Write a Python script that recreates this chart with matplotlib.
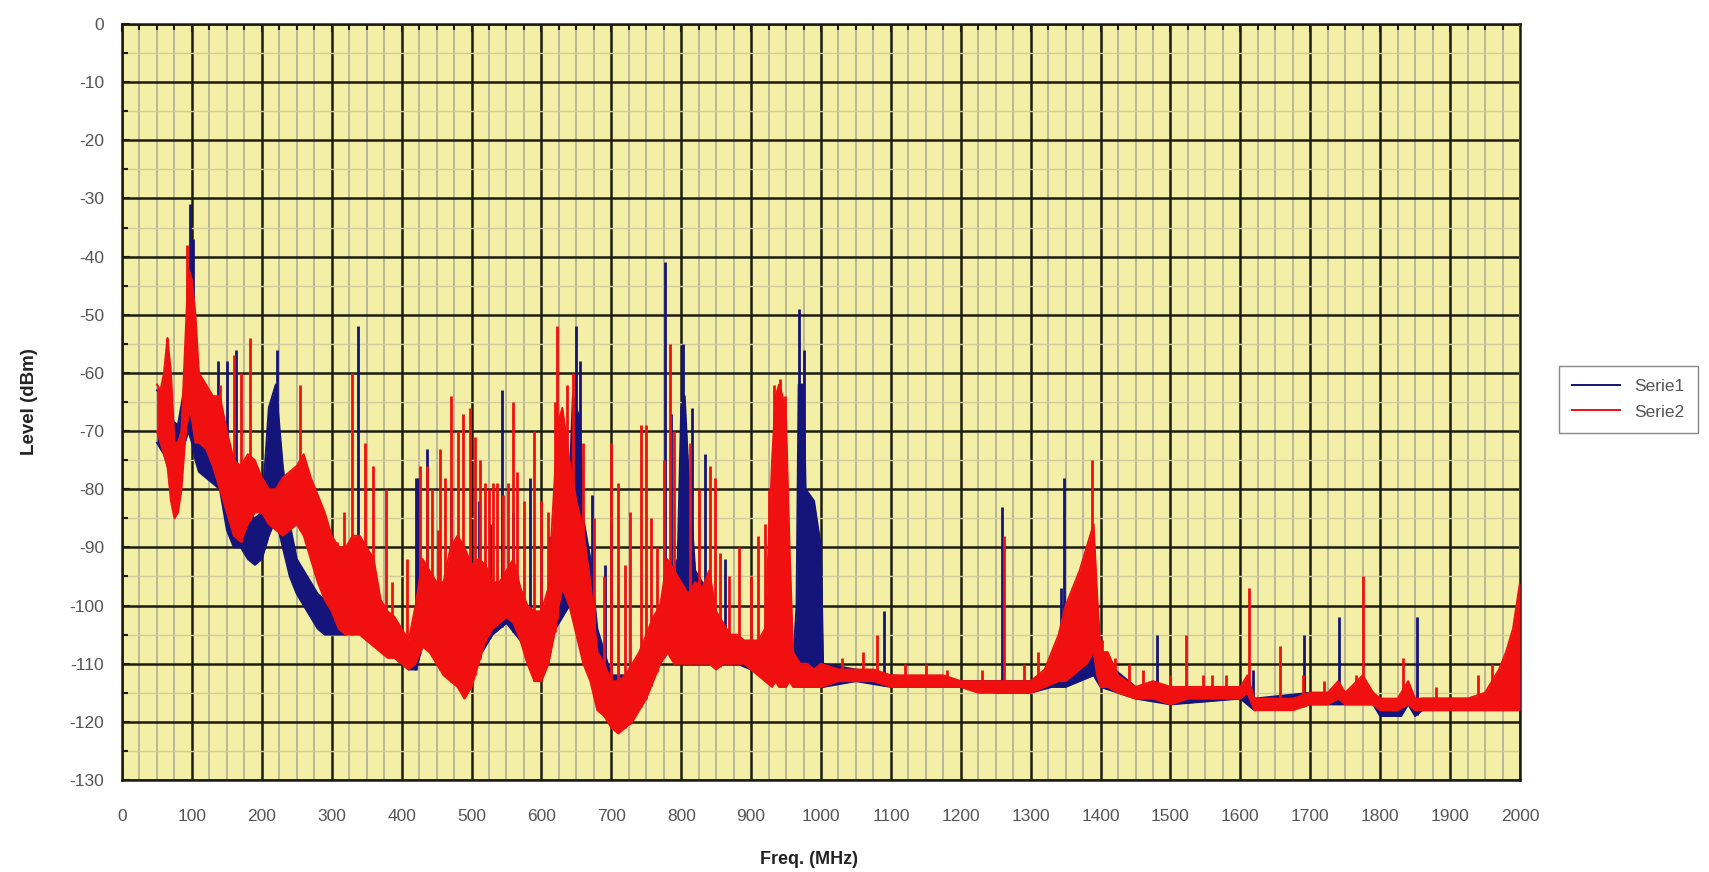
import matplotlib.pyplot as plt
import numpy as np
from matplotlib.ticker import MultipleLocator

plt.rcParams['font.family'] = ['Liberation Sans', 'DejaVu Sans']
plt.rcParams['axes.unicode_minus'] = False

# Serie2 (red) envelope: freq (MHz), low / high level (dBm)
s2_freq = [50, 55, 60, 65, 70, 75, 80, 85, 90, 95,
           100, 105, 110, 120, 130, 140, 150, 160, 170, 180,
           190, 200, 210, 220, 230, 240, 250, 260, 270, 280,
           290, 300, 310, 320, 330, 340, 350, 360, 370, 380,
           390, 400, 410, 420, 430, 440, 450, 460, 470, 480,
           490, 500, 510, 520, 530, 540, 550, 560, 570, 580,
           590, 600, 610, 620, 625, 630, 640, 650, 660, 670,
           680, 690, 700, 710, 720, 730, 740, 750, 760, 770,
           780, 790, 800, 810, 820, 830, 840, 850, 860, 870,
           880, 890, 900, 910, 920, 930, 935, 940, 945, 950,
           955, 960, 970, 980, 990, 1000, 1025, 1050, 1075, 1100,
           1125, 1150, 1175, 1200, 1225, 1250, 1275, 1300, 1320, 1340,
           1350, 1360, 1370, 1380, 1390, 1395, 1400, 1410, 1425, 1450,
           1475, 1500, 1525, 1550, 1575, 1600, 1610, 1620, 1650, 1675,
           1700, 1725, 1740, 1750, 1775, 1790, 1800, 1825, 1840, 1850,
           1875, 1900, 1925, 1950, 1960, 1970, 1980, 1990, 2000]
s2_lo = [-70, -72, -74, -76, -82, -85, -84, -80, -72, -66,
         -68, -72, -72, -73, -76, -80, -84, -88, -89, -86,
         -84, -84, -86, -87, -88, -87, -86, -88, -92, -96,
         -99, -101, -104, -105, -105, -105, -106, -107, -108, -109,
         -109, -110, -111, -110, -107, -108, -110, -112, -113, -114,
         -116, -114, -110, -106, -104, -103, -102, -103, -106, -110,
         -113, -113, -110, -104, -100, -97, -100, -105, -110, -113,
         -118, -119, -121, -122, -121, -120, -118, -116, -113, -110,
         -108, -110, -110, -110, -110, -110, -110, -111, -110, -110,
         -110, -110, -111, -112, -113, -114, -113, -114, -114, -114,
         -113, -114, -114, -114, -114, -114, -113, -113, -113, -114,
         -114, -114, -114, -114, -115, -115, -115, -115, -114, -113,
         -113, -112, -111, -110, -108, -112, -114, -114, -115, -116,
         -116, -117, -116, -116, -116, -116, -115, -118, -118, -118,
         -117, -117, -116, -117, -117, -117, -118, -118, -117, -118,
         -118, -118, -118, -118, -118, -118, -118, -118, -118]
s2_hi = [-62, -63, -60, -54, -60, -72, -72, -70, -56, -42,
         -44, -50, -60, -62, -64, -64, -70, -75, -76, -74,
         -75, -78, -80, -80, -78, -77, -76, -74, -78, -81,
         -84, -88, -90, -90, -88, -88, -90, -92, -99, -101,
         -102, -104, -106, -100, -92, -94, -96, -96, -90, -88,
         -90, -93, -92, -93, -96, -96, -94, -92, -97, -100,
         -101, -101, -97, -76, -68, -66, -75, -82, -87, -96,
         -108, -110, -113, -113, -112, -110, -108, -105, -102, -100,
         -92, -94, -96, -98, -96, -97, -94, -101, -103, -105,
         -105, -106, -106, -106, -104, -75, -64, -62, -64, -68,
         -90, -108, -110, -110, -111, -110, -111, -111, -111, -112,
         -112, -112, -112, -113, -113, -113, -113, -113, -111, -105,
         -100, -97, -94, -90, -86, -98, -108, -108, -112, -114,
         -113, -114, -114, -114, -114, -114, -112, -116, -116, -116,
         -115, -115, -113, -115, -112, -115, -116, -116, -113, -116,
         -116, -116, -116, -115, -113, -111, -108, -104, -96]

# Serie1 (navy) envelope
s1_freq = [50, 60, 70, 80, 90, 95, 100, 105, 110, 120,
           130, 140, 150, 160, 170, 180, 190, 200, 210, 220,
           230, 240, 250, 260, 270, 280, 290, 300, 310, 320,
           330, 340, 350, 360, 370, 380, 390, 400, 410, 420,
           430, 450, 470, 490, 510, 530, 550, 570, 590, 610,
           620, 640, 645, 650, 655, 660, 670, 680, 700, 720,
           740, 760, 780, 795, 800, 805, 810, 820, 840, 860,
           880, 900, 920, 940, 960, 965, 968, 975, 978, 990,
           1000, 1003, 1050, 1100, 1200, 1250, 1300, 1330, 1350, 1370,
           1390, 1400, 1450, 1500, 1600, 1620, 1700, 1790, 1800, 1830,
           1840, 1850, 1860, 1900, 1950, 2000]
s1_lo = [-72, -74, -78, -76, -72, -70, -72, -75, -77, -78,
         -79, -80, -87, -90, -90, -92, -93, -92, -88, -85,
         -90, -95, -98, -100, -102, -104, -105, -105, -105, -105,
         -104, -104, -106, -106, -107, -108, -109, -110, -111, -111,
         -107, -109, -111, -113, -109, -105, -103, -106, -111, -109,
         -104, -100, -101, -102, -104, -106, -110, -115, -119, -119,
         -117, -112, -108, -108, -108, -108, -109, -110, -110, -110,
         -110, -111, -112, -113, -113, -113, -114, -114, -114, -114,
         -114, -114, -113, -114, -114, -115, -115, -114, -114, -113,
         -112, -114, -116, -117, -116, -118, -117, -117, -119, -119,
         -117, -119, -118, -118, -118, -118]
s1_hi = [-63, -64, -68, -69, -62, -50, -55, -62, -68, -70,
         -71, -72, -76, -80, -82, -84, -85, -84, -66, -62,
         -76, -86, -92, -94, -96, -98, -99, -100, -100, -99,
         -98, -98, -100, -102, -103, -104, -105, -106, -107, -106,
         -98, -100, -98, -100, -98, -99, -98, -100, -104, -100,
         -90, -80, -64, -66, -68, -85, -92, -104, -112, -112,
         -110, -104, -96, -92, -66, -64, -76, -94, -98, -105,
         -107, -108, -107, -108, -110, -100, -62, -62, -80, -82,
         -90, -110, -111, -112, -113, -113, -113, -111, -108, -104,
         -98, -109, -114, -115, -114, -116, -115, -115, -117, -117,
         -114, -117, -116, -116, -116, -112]

# narrow single-frequency peaks: freq (MHz), top level (dBm)
s1_spike_f = [97, 102, 138, 150, 163, 222, 338, 420, 424, 436,
              470, 510, 527, 543, 560, 584, 600, 612, 650, 655,
              672, 691, 700, 777, 786, 803, 815, 834, 862, 969,
              976, 1090, 1259, 1343, 1348, 1480, 1618, 1691, 1741, 1852]
s1_spike_top = [-31, -37, -58, -58, -56, -56, -52, -78, -78, -73,
                -80, -82, -86, -63, -84, -78, -90, -88, -52, -58,
                -81, -93, -86, -41, -67, -55, -66, -74, -92, -49,
                -56, -101, -83, -97, -78, -105, -111, -105, -102, -102]
s2_spike_f = [65, 93, 140, 160, 170, 183, 255, 307, 317, 329,
              348, 359, 377, 386, 408, 426, 437, 443, 452, 455,
              462, 471, 480, 488, 498, 505, 512, 519, 525, 531,
              536, 545, 552, 560, 565, 575, 590, 600, 610, 619,
              622, 636, 645, 660, 675, 690, 700, 710, 720, 727,
              743, 750, 757, 765, 775, 784, 790, 812, 825, 841,
              848, 855, 868, 883, 900, 910, 920, 925, 933, 941,
              948, 1030, 1060, 1080, 1120, 1150, 1180, 1230, 1262, 1290,
              1310, 1388, 1402, 1420, 1440, 1460, 1500, 1522, 1547, 1560,
              1580, 1612, 1656, 1690, 1720, 1765, 1776, 1833, 1880, 1940,
              1960, 2000]
s2_spike_top = [-54, -38, -62, -57, -60, -54, -62, -89, -84, -60,
                -72, -76, -80, -96, -92, -76, -76, -80, -87, -73,
                -78, -64, -70, -67, -66, -71, -75, -79, -80, -79,
                -79, -81, -79, -65, -77, -82, -70, -82, -84, -65,
                -52, -62, -60, -72, -85, -95, -72, -79, -93, -84,
                -69, -69, -85, -90, -75, -55, -70, -72, -80, -76,
                -78, -91, -95, -90, -95, -88, -86, -80, -62, -61,
                -64, -109, -108, -105, -110, -110, -111, -111, -88, -110,
                -108, -75, -106, -109, -110, -111, -112, -105, -112, -112,
                -112, -97, -107, -112, -113, -112, -95, -109, -114, -112,
                -110, 0]

x_ticks = list(range(0, 2001, 100))
y_ticks = list(range(-130, 1, 10))

navy = '#14147a'
red = '#f01010'

fig = plt.figure(figsize=(17.09, 8.72), dpi=100)
ax = fig.add_axes([0.0714, 0.1055, 0.8180, 0.8670])
ax.set_facecolor('#f4efa6')


def draw_series(freq, lo, hi, spk_f, spk_top, color, label):
    ax.fill_between(freq, lo, hi, color=color, lw=0, zorder=3)
    ax.plot(freq, hi, color=color, lw=1.4, zorder=3, label=label)
    ax.plot(freq, lo, color=color, lw=1.4, zorder=3)
    base = np.interp(spk_f, freq, lo)
    ax.vlines(spk_f, base, spk_top, color=color, lw=2.0, zorder=3)


draw_series(s1_freq, s1_lo, s1_hi, s1_spike_f, s1_spike_top, navy, 'Serie1')
draw_series(s2_freq, s2_lo, s2_hi, s2_spike_f, s2_spike_top, red, 'Serie2')

ax.set_xlim(0, 2000)
ax.set_ylim(-130, 0)
ax.set_xticks(x_ticks)
ax.set_yticks(y_ticks)
ax.xaxis.set_minor_locator(MultipleLocator(25))
ax.yaxis.set_minor_locator(MultipleLocator(5))

ax.set_axisbelow(True)
ax.grid(which='major', color='#1c1c10', lw=1.8)
ax.grid(which='minor', axis='x', color='#b0ad98', lw=1.2)
ax.grid(which='minor', axis='y', color='#d0cc9e', lw=1.0)

ax.tick_params(axis='x', which='both', top=True, bottom=False, direction='in',
               labelbottom=True, labeltop=False, pad=21, labelsize=12.5,
               labelcolor='#555555', color='#1c1c10')
ax.tick_params(axis='y', which='both', left=True, direction='in', pad=13,
               labelsize=12.5, labelcolor='#555555', color='#1c1c10')
ax.tick_params(which='major', length=6, width=1.5)
ax.tick_params(which='minor', length=4, width=1.5)
for sp in ax.spines.values():
    sp.set_color('#1c1c10')
    sp.set_linewidth(1.8)

fig.text(0.0170, 0.540, 'Level (dBm)', rotation=90, ha='center', va='center',
         fontsize=13.5, fontweight='bold', color='#222222')
fig.text(0.4734, 0.0149, 'Freq. (MHz)', ha='center', va='center',
         fontsize=13, fontweight='bold', color='#222222')

leg = ax.legend(loc='lower left', bbox_to_anchor=(0.9070, 0.4940),
                bbox_transform=fig.transFigure, fancybox=False,
                edgecolor='#888888', fontsize=12.5, handlelength=2.8,
                borderpad=0.75, labelspacing=0.6, framealpha=1)
for t in leg.get_texts():
    t.set_color('#555555')
leg.get_frame().set_linewidth(1.0)

fig.savefig('out.png', dpi=100)
